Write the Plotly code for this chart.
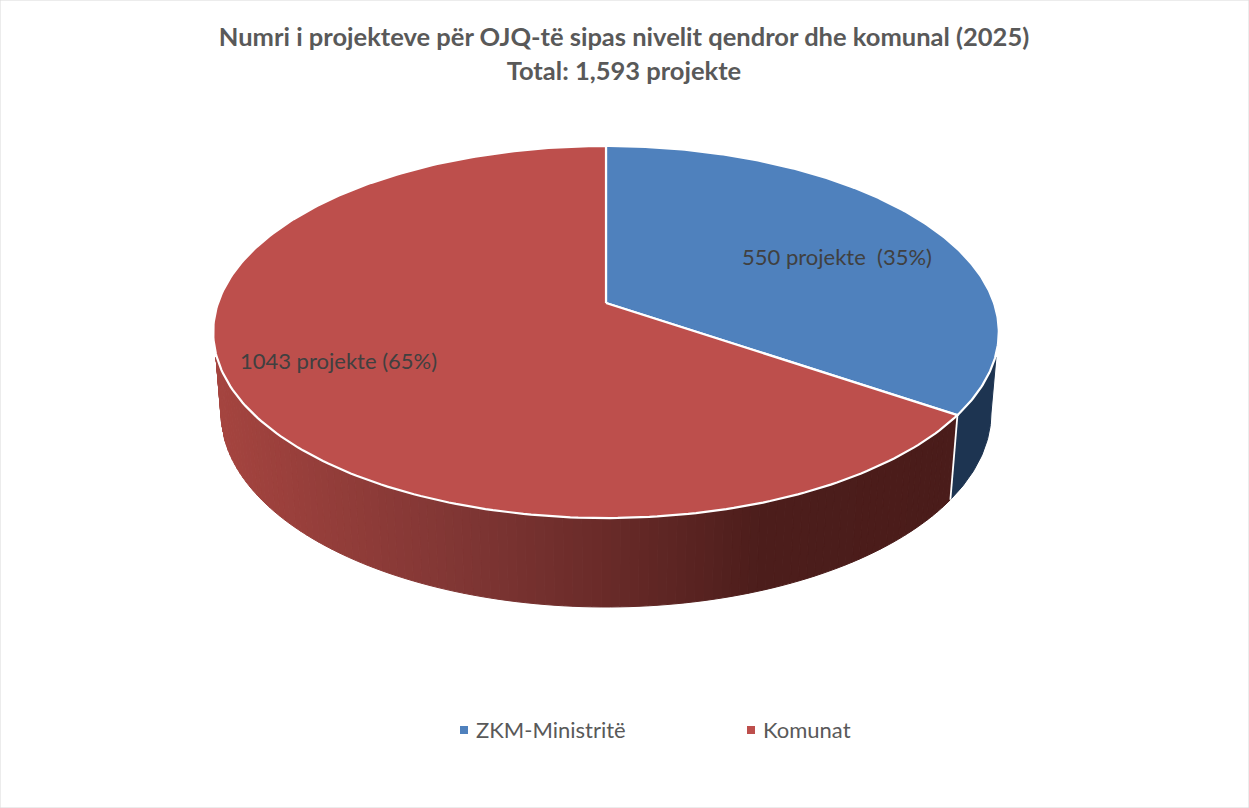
import numpy as np
import plotly.graph_objects as go

# --- data ---
categories = ["ZKM-Ministritë", "Komunat"]
values = [550, 1043]
slice_labels = ["550 projekte\u00a0 (35%)", "1043 projekte (65%)"]
title_lines = ["Numri i projekteve për OJQ-të sipas nivelit qendror dhe komunal (2025)",
               "Total: 1,593 projekte"]

# --- styles / geometry (pixel space of the chart) ---
W, H = 1249, 808
TOP_COLORS = ["#4f81bd", "#bd4f4c"]
BLUE_WALL = "#1d3451"
CX, APEX_Y, A, B, K = 606.0, 303.0, 388.0, 181.5, 0.156
TOP_CY, TOP_A, TOP_B = 332.0, 393.0, 186.0
BOT_CY, BOT_A, BOT_B = 413.0, 385.0, 194.0
WALL_START_Y = 357.0
WALL_HALF_W = 390.0
GRAD_X = [221, 460, 600, 760, 950]
GRAD_RGB = [(165, 68, 63), (128, 54, 52), (106, 43, 41), (76, 29, 27), (74, 28, 26)]
LABEL_POS = [(837, 259), (338.5, 363)]
LEGEND_MARK_X = [464, 751]
LEGEND_TEXT_X = [476, 763]
LEGEND_MARK_Y = 730
LEGEND_TEXT_Y = 732


def rim(t):
    """Perspective projection of the angle t (clockwise from 12 o'clock) onto the pie's top."""
    u, v = np.sin(t), np.cos(t)
    d = 1 + K * v
    return CX + A * u / d, APEX_Y - B * v / d


def bottom(phi):
    return CX + BOT_A * np.sin(phi), BOT_CY - BOT_B * np.cos(phi)


def top_e(phi):
    return CX + TOP_A * np.sin(phi), TOP_CY - TOP_B * np.cos(phi)


def grad(x):
    c = [np.interp(x, GRAD_X, [g[i] for g in GRAD_RGB]) for i in range(3)]
    return "rgb(%d,%d,%d)" % tuple(int(round(k)) for k in c)


total = sum(values)
edge = 2 * np.pi * values[0] / total
ex, ey = rim(edge)
phi_edge = np.arctan2((ex - CX) / TOP_A, (TOP_CY - ey) / TOP_B) % (2 * np.pi)

fig = go.Figure()


def wall(p0, p1, color):
    ph = np.linspace(p0, p1, 40)
    tx, ty = top_e(ph)
    ty = np.maximum(ty, WALL_START_Y)
    tx = np.clip(tx, CX - WALL_HALF_W, CX + WALL_HALF_W)
    bx, by = bottom(ph)
    fig.add_trace(go.Scatter(
        x=np.r_[tx, bx[::-1], tx[0]], y=np.r_[ty, by[::-1], ty[0]],
        mode="lines", fill="toself", fillcolor=color,
        line=dict(color=color, width=1), showlegend=False, hoverinfo="skip"))


# blue side wall
wall(np.pi / 2, phi_edge, BLUE_WALL)

# red side wall as thin strips forming a horizontal gradient
edges = np.linspace(phi_edge, 1.5 * np.pi, 111)
for p0, p1 in zip(edges[:-1], edges[1:]):
    mx = bottom((p0 + p1) / 2)[0]
    wall(p0, p1, grad(mx))

# white divider between the walls
bx, by = bottom(phi_edge)
fig.add_trace(go.Scatter(x=[ex, bx], y=[ey, by], mode="lines",
                         line=dict(color="white", width=1.8),
                         showlegend=False, hoverinfo="skip"))

# top faces
start = 0.0
for val, col, name in zip(values, TOP_COLORS, categories):
    stop = start + 2 * np.pi * val / total
    t = np.linspace(start, stop, 240)
    x, y = rim(t)
    fig.add_trace(go.Scatter(
        x=np.r_[CX, x, CX], y=np.r_[APEX_Y, y, APEX_Y],
        mode="lines", fill="toself", fillcolor=col,
        line=dict(color="white", width=2.2), name=name,
        showlegend=False, hoverinfo="name"))
    start = stop

# slice labels
for txt, (lx, ly) in zip(slice_labels, LABEL_POS):
    fig.add_trace(go.Scatter(x=[lx], y=[ly], mode="text", text=[txt],
                             textfont=dict(family="Lato", size=22, color="#404040"),
                             showlegend=False, hoverinfo="skip"))

# legend entries, spaced as in the reference
for name, col, mx, tx in zip(categories, TOP_COLORS, LEGEND_MARK_X, LEGEND_TEXT_X):
    fig.add_trace(go.Scatter(x=[mx], y=[LEGEND_MARK_Y], mode="markers", name=name,
                             marker=dict(symbol="square", size=8, color=col),
                             showlegend=False, hoverinfo="name"))
    fig.add_trace(go.Scatter(x=[tx], y=[LEGEND_TEXT_Y], mode="text", text=[name],
                             textposition="middle right",
                             textfont=dict(family="Lato", size=22, color="#595959"),
                             showlegend=False, hoverinfo="skip"))

fig.update_layout(
    width=W, height=H, autosize=False,
    margin=dict(l=0, r=0, t=0, b=0),
    paper_bgcolor="white", plot_bgcolor="white",
    title=dict(text="<b>" + "<br>".join(title_lines) + "</b>",
               x=0.4996, xanchor="center", y=0.9425, yanchor="middle",
               font=dict(family="Lato", size=25.5, color="#595959")),
    xaxis=dict(range=[0, W], visible=False, domain=[0, 1], fixedrange=True),
    yaxis=dict(range=[H, 0], visible=False, domain=[0, 1], fixedrange=True),
    showlegend=False,
    shapes=[dict(type="rect", xref="paper", yref="paper", x0=0, y0=0, x1=1, y1=1,
                 line=dict(color="#d9d9d9", width=1), fillcolor="rgba(0,0,0,0)")],
)

fig.write_html("out.html", config={"displayModeBar": False},
               post_script="document.body.style.margin='0';document.body.style.overflow='hidden';")
